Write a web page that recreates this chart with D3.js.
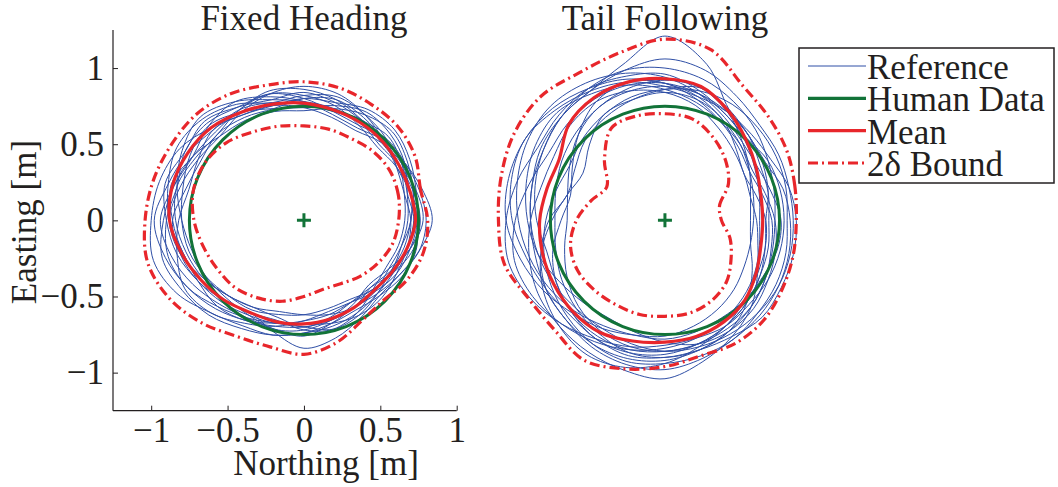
<!DOCTYPE html>
<html>
<head>
<meta charset="utf-8">
<script src="https://cdn.jsdelivr.net/npm/d3@7"></script>
<style>
  body { margin: 0; background: #fff; }
  svg text { font-family: "Liberation Serif", "Times New Roman", serif; fill: #231f20; }
</style>
</head>
<body>
<div id="grafico"></div>
<script>
const ringAngles = [0, 15, 30, 45, 60, 75, 90, 105, 120, 135, 150, 165, 180, 195, 210, 225, 240, 255, 270, 285, 300, 315, 330, 345];

// Human data: circle of radius 0.75 m about the origin
const humanRadius = 0.75;

// Fixed Heading - mean and 2-sigma bounds (radius in m at ringAngles)
const fixedMean  = [0.73, 0.72, 0.72, 0.73, 0.74, 0.75, 0.77, 0.79, 0.82, 0.86, 0.88, 0.89, 0.88, 0.83, 0.78, 0.74, 0.70, 0.69, 0.68, 0.67, 0.66, 0.65, 0.67, 0.70];
const fixedInner = [0.62, 0.64, 0.65, 0.64, 0.62, 0.62, 0.62, 0.64, 0.67, 0.72, 0.75, 0.75, 0.72, 0.68, 0.65, 0.63, 0.59, 0.55, 0.50, 0.47, 0.48, 0.52, 0.56, 0.60];
const fixedOuter = [0.81, 0.79, 0.84, 0.87, 0.88, 0.90, 0.91, 0.92, 0.96, 0.99, 1.00, 1.02, 1.04, 1.06, 1.02, 0.95, 0.88, 0.86, 0.88, 0.83, 0.76, 0.74, 0.78, 0.81];

// Tail Following - mean and 2-sigma bounds
const tailMean  = [0.64, 0.65, 0.69, 0.75, 0.83, 0.91, 0.93, 0.94, 0.93, 0.89, 0.80, 0.80, 0.82, 0.83, 0.84, 0.85, 0.85, 0.82, 0.80, 0.79, 0.77, 0.74, 0.69, 0.65];
const tailInner = [0.37, 0.37, 0.48, 0.56, 0.63, 0.69, 0.70, 0.71, 0.70, 0.56, 0.44, 0.50, 0.58, 0.64, 0.66, 0.65, 0.64, 0.64, 0.63, 0.63, 0.61, 0.57, 0.50, 0.44];
const tailOuter = [0.86, 0.88, 0.92, 0.96, 1.02, 1.16, 1.19, 1.14, 1.12, 1.15, 1.14, 1.11, 1.09, 1.09, 1.03, 1.02, 1.06, 1.01, 0.96, 0.92, 0.93, 0.92, 0.89, 0.87];

// reference runs, Fixed Heading (radius at ringAngles)
const fixedTracks = [
    [0.72, 0.70, 0.74, 0.78, 0.76, 0.80, 0.84, 0.82, 0.86, 0.92, 0.90, 0.94, 0.90, 0.86, 0.80, 0.76, 0.72, 0.70, 0.66, 0.64, 0.62, 0.64, 0.68, 0.70],
    [0.76, 0.74, 0.72, 0.72, 0.76, 0.74, 0.76, 0.80, 0.84, 0.84, 0.88, 0.92, 0.98, 0.94, 0.88, 0.82, 0.76, 0.72, 0.70, 0.68, 0.66, 0.62, 0.66, 0.72],
    [0.68, 0.70, 0.76, 0.80, 0.82, 0.78, 0.74, 0.76, 0.82, 0.88, 0.86, 0.82, 0.80, 0.78, 0.74, 0.70, 0.68, 0.64, 0.62, 0.60, 0.60, 0.64, 0.66, 0.66],
    [0.80, 0.78, 0.76, 0.74, 0.70, 0.72, 0.78, 0.84, 0.90, 0.88, 0.84, 0.88, 0.94, 0.90, 0.84, 0.78, 0.74, 0.74, 0.76, 0.70, 0.66, 0.68, 0.72, 0.78],
    [0.70, 0.72, 0.70, 0.68, 0.72, 0.78, 0.82, 0.86, 0.84, 0.80, 0.82, 0.86, 0.84, 0.80, 0.76, 0.70, 0.66, 0.62, 0.62, 0.64, 0.66, 0.66, 0.64, 0.66],
    [0.74, 0.76, 0.80, 0.84, 0.84, 0.80, 0.80, 0.78, 0.80, 0.86, 0.94, 0.98, 1.00, 1.02, 0.96, 0.86, 0.80, 0.78, 0.74, 0.70, 0.68, 0.70, 0.74, 0.76],
    [0.84, 0.80, 0.76, 0.74, 0.76, 0.82, 0.86, 0.88, 0.84, 0.82, 0.84, 0.90, 0.86, 0.82, 0.78, 0.74, 0.70, 0.76, 0.84, 0.80, 0.74, 0.70, 0.72, 0.78],
    [0.70, 0.68, 0.70, 0.76, 0.80, 0.84, 0.82, 0.80, 0.88, 0.94, 0.96, 0.92, 0.88, 0.82, 0.80, 0.80, 0.76, 0.70, 0.68, 0.70, 0.72, 0.72, 0.70, 0.70],
    [0.74, 0.72, 0.74, 0.72, 0.68, 0.70, 0.74, 0.78, 0.80, 0.84, 0.80, 0.78, 0.82, 0.86, 0.90, 0.86, 0.78, 0.72, 0.66, 0.62, 0.62, 0.66, 0.70, 0.72],
    [0.66, 0.68, 0.72, 0.74, 0.78, 0.82, 0.80, 0.76, 0.78, 0.80, 0.78, 0.80, 0.86, 0.84, 0.80, 0.74, 0.70, 0.68, 0.72, 0.74, 0.70, 0.64, 0.62, 0.64],
    [0.78, 0.76, 0.72, 0.70, 0.74, 0.76, 0.78, 0.82, 0.90, 0.96, 0.92, 0.86, 0.80, 0.76, 0.74, 0.72, 0.72, 0.74, 0.72, 0.68, 0.64, 0.60, 0.64, 0.72],
    [0.72, 0.74, 0.78, 0.82, 0.80, 0.76, 0.72, 0.74, 0.76, 0.78, 0.84, 0.88, 0.92, 0.96, 0.92, 0.88, 0.82, 0.78, 0.74, 0.72, 0.70, 0.68, 0.68, 0.70],
    [0.76, 0.72, 0.70, 0.74, 0.80, 0.86, 0.88, 0.86, 0.82, 0.78, 0.80, 0.84, 0.88, 0.84, 0.76, 0.70, 0.66, 0.66, 0.70, 0.66, 0.62, 0.62, 0.68, 0.74],
    [0.70, 0.74, 0.76, 0.76, 0.72, 0.74, 0.80, 0.86, 0.86, 0.90, 0.90, 0.86, 0.90, 0.92, 0.88, 0.80, 0.74, 0.70, 0.70, 0.74, 0.72, 0.68, 0.66, 0.68]
];

// reference runs, Tail Following
const tailTracks = [
    [0.72, 0.74, 0.78, 0.84, 0.90, 0.96, 1.00, 1.02, 1.00, 0.96, 0.92, 0.90, 0.88, 0.88, 0.90, 0.92, 0.94, 0.94, 0.92, 0.88, 0.84, 0.80, 0.76, 0.73],
    [0.62, 0.64, 0.68, 0.74, 0.80, 0.86, 0.90, 0.92, 0.92, 0.90, 0.88, 0.92, 0.98, 1.02, 1.00, 0.96, 0.92, 0.88, 0.84, 0.80, 0.76, 0.72, 0.68, 0.64],
    [0.80, 0.82, 0.84, 0.86, 0.88, 0.88, 0.86, 0.84, 0.80, 0.76, 0.72, 0.74, 0.78, 0.82, 0.86, 0.90, 0.94, 0.96, 0.94, 0.92, 0.90, 0.86, 0.84, 0.82],
    [0.58, 0.60, 0.64, 0.70, 0.76, 0.84, 0.90, 0.96, 1.00, 1.04, 1.06, 1.06, 1.04, 0.98, 0.92, 0.86, 0.82, 0.78, 0.76, 0.72, 0.68, 0.64, 0.60, 0.58],
    [0.70, 0.66, 0.64, 0.68, 0.74, 0.82, 0.90, 0.94, 0.90, 0.80, 0.70, 0.64, 0.68, 0.76, 0.82, 0.86, 0.88, 0.88, 0.86, 0.84, 0.82, 0.80, 0.76, 0.72],
    [0.84, 0.84, 0.86, 0.88, 0.94, 1.02, 1.06, 1.02, 0.98, 0.96, 0.94, 0.90, 0.88, 0.86, 0.84, 0.82, 0.82, 0.84, 0.86, 0.86, 0.86, 0.86, 0.86, 0.85],
    [0.60, 0.58, 0.60, 0.64, 0.70, 0.78, 0.84, 0.88, 0.90, 0.88, 0.84, 0.84, 0.88, 0.92, 0.96, 0.98, 1.00, 1.02, 1.04, 0.96, 0.88, 0.80, 0.70, 0.63],
    [0.76, 0.72, 0.70, 0.72, 0.78, 0.86, 0.94, 1.00, 1.04, 1.06, 1.04, 1.00, 0.96, 0.92, 0.88, 0.84, 0.80, 0.78, 0.78, 0.76, 0.74, 0.74, 0.74, 0.76],
    [0.66, 0.70, 0.74, 0.78, 0.82, 0.86, 0.88, 0.88, 0.86, 0.80, 0.72, 0.66, 0.64, 0.68, 0.74, 0.80, 0.84, 0.86, 0.86, 0.84, 0.80, 0.76, 0.72, 0.68],
    [0.78, 0.78, 0.78, 0.76, 0.80, 0.88, 0.96, 0.98, 1.00, 0.98, 0.96, 1.00, 1.04, 1.06, 1.02, 0.96, 0.90, 0.86, 0.82, 0.80, 0.80, 0.78, 0.78, 0.78],
    [0.56, 0.58, 0.64, 0.72, 0.82, 0.90, 0.92, 0.90, 0.86, 0.82, 0.78, 0.74, 0.72, 0.74, 0.78, 0.82, 0.86, 0.90, 0.90, 0.88, 0.84, 0.76, 0.66, 0.58],
    [0.82, 0.80, 0.76, 0.78, 0.84, 0.90, 0.86, 0.82, 0.78, 0.74, 0.68, 0.66, 0.76, 0.84, 0.90, 0.92, 0.96, 0.98, 0.98, 0.94, 0.90, 0.88, 0.86, 0.84],
    [0.68, 0.70, 0.72, 0.78, 0.84, 1.06, 1.21, 1.06, 0.98, 0.96, 0.92, 0.88, 0.84, 0.80, 0.82, 0.86, 0.90, 0.90, 0.88, 0.84, 0.80, 0.76, 0.72, 0.70],
    [0.72, 0.68, 0.66, 0.70, 0.74, 0.80, 0.86, 0.92, 0.96, 1.00, 0.98, 0.94, 0.90, 0.86, 0.80, 0.76, 0.74, 0.76, 0.80, 0.84, 0.84, 0.82, 0.78, 0.75],
    [0.66, 0.62, 0.60, 0.66, 0.76, 0.82, 0.84, 0.82, 0.80, 0.70, 0.62, 0.66, 0.74, 0.84, 0.92, 0.98, 1.02, 1.00, 0.94, 0.86, 0.80, 0.74, 0.70, 0.68],
    [0.86, 0.84, 0.80, 0.80, 0.82, 0.84, 0.88, 0.94, 0.98, 1.02, 1.06, 1.04, 1.00, 0.94, 0.90, 0.88, 0.90, 0.92, 0.90, 0.88, 0.88, 0.90, 0.88, 0.87]
];

// axes
const xTicks = [-1, -0.5, 0, 0.5, 1];
const yTicks = [-1, -0.5, 0, 0.5, 1];
const xDomain = [-1.25, 1];
const yDomain = [-1.25, 1.25];

const legendItems = ["Reference", "Human Data", "Mean", "2\u03b4 Bound"];

/**************************************************
 * Dimensiones
 ***************************************************/
const width = 1058;
const height = 487;
const plotTop = 30;
const plotBottom = 410.7;
const plotWidth = 343.7;
const panelLeft = [113, 474];

const colBlue = "#2f4fa6";
const colGreen = "#127338";
const colRed = "#e8262b";
const dashDot = "10,4,2,4";

const svg = d3.select("#grafico")
    .append("svg")
    .attr("width", width)
    .attr("height", height);

const fmt = d => (d < 0 ? "\u2212" : "") + Math.abs(d);

const panels = [
    { title: "Fixed Heading", left: panelLeft[0], tracks: fixedTracks, mean: fixedMean, inner: fixedInner, outer: fixedOuter, axes: true },
    { title: "Tail Following", left: panelLeft[1], tracks: tailTracks, mean: tailMean, inner: tailInner, outer: tailOuter, axes: false }
];

panels.forEach(p => {
    const x = d3.scaleLinear().domain(xDomain).range([p.left, p.left + plotWidth]);
    const y = d3.scaleLinear().domain(yDomain).range([plotBottom, plotTop]);

    // polar radii -> pixel points
    const toPoints = radii => radii.map((r, i) => {
        const a = ringAngles[i] * Math.PI / 180;
        return [x(r * Math.cos(a)), y(r * Math.sin(a))];
    });

    const line = d3.line().curve(d3.curveCatmullRomClosed.alpha(0.5));

    const g = svg.append("g");

    // reference runs
    g.selectAll(".track")
        .data(p.tracks)
        .enter()
        .append("path")
        .attr("class", "track")
        .attr("d", d => line(toPoints(d)))
        .attr("fill", "none")
        .attr("stroke", colBlue)
        .attr("stroke-width", 1);

    // human data
    g.append("ellipse")
        .attr("cx", x(0))
        .attr("cy", y(0))
        .attr("rx", x(humanRadius) - x(0))
        .attr("ry", y(0) - y(humanRadius))
        .attr("fill", "none")
        .attr("stroke", colGreen)
        .attr("stroke-width", 3);

    // centre mark
    g.append("path")
        .attr("d", `M${x(0) - 7},${y(0)}H${x(0) + 7}M${x(0)},${y(0) - 7}V${y(0) + 7}`)
        .attr("stroke", colGreen)
        .attr("stroke-width", 3);

    // mean
    g.append("path")
        .attr("d", line(toPoints(p.mean)))
        .attr("fill", "none")
        .attr("stroke", colRed)
        .attr("stroke-width", 3.2);

    // bounds
    [p.inner, p.outer].forEach(b => {
        g.append("path")
            .attr("d", line(toPoints(b)))
            .attr("fill", "none")
            .attr("stroke", colRed)
            .attr("stroke-width", 3.2)
            .attr("stroke-dasharray", dashDot);
    });

    // titulo
    svg.append("text")
        .attr("x", x(0))
        .attr("y", 30)
        .attr("text-anchor", "middle")
        .style("font-size", "35px")
        .text(p.title);

    if (!p.axes) return;

    const xAxis = d3.axisBottom(x).tickValues(xTicks).tickSize(-5).tickPadding(6).tickFormat(fmt);
    const yAxis = d3.axisLeft(y).tickValues(yTicks).tickSize(-5).tickPadding(9).tickFormat(fmt);

    const gx = svg.append("g")
        .attr("transform", `translate(0,${plotBottom})`)
        .call(xAxis);
    const gy = svg.append("g")
        .attr("transform", `translate(${p.left},0)`)
        .call(yAxis);

    [gx, gy].forEach(a => {
        a.select(".domain").remove();
        a.selectAll(".tick line").attr("stroke", "#231f20");
        a.selectAll(".tick text")
            .style("font-size", "35px")
            .style("font-family", "'Liberation Serif', serif")
            .attr("fill", "#231f20");
    });

    // axis lines (no box)
    svg.append("line")
        .attr("x1", p.left).attr("x2", p.left + plotWidth)
        .attr("y1", plotBottom).attr("y2", plotBottom)
        .attr("stroke", "#231f20").attr("stroke-width", 1.2);
    svg.append("line")
        .attr("x1", p.left).attr("x2", p.left)
        .attr("y1", plotTop).attr("y2", plotBottom)
        .attr("stroke", "#231f20").attr("stroke-width", 1.2);

    // axis labels
    svg.append("text")
        .attr("x", 326)
        .attr("y", 475)
        .attr("text-anchor", "middle")
        .style("font-size", "35px")
        .text("Northing [m]");

    svg.append("text")
        .attr("transform", `translate(36,222) rotate(-90)`)
        .attr("text-anchor", "middle")
        .style("font-size", "35px")
        .text("Easting [m]");
});

/**************************************************
 * Legend
 ***************************************************/
const legend = svg.append("g").attr("id", "legend");

legend.append("rect")
    .attr("x", 799)
    .attr("y", 48)
    .attr("width", 255)
    .attr("height", 135)
    .attr("fill", "#fff")
    .attr("stroke", "#231f20")
    .attr("stroke-width", 1.5);

const legendY = d3.scalePoint().domain(legendItems).range([66, 163]);
const legendStyle = {
    "Reference": { c: colBlue, w: 1, dash: null },
    "Human Data": { c: colGreen, w: 3.2, dash: null },
    "Mean": { c: colRed, w: 3.2, dash: null },
    "2\u03b4 Bound": { c: colRed, w: 3.2, dash: dashDot }
};

legendItems.forEach(name => {
    const s = legendStyle[name];
    legend.append("line")
        .attr("x1", 808).attr("x2", 866)
        .attr("y1", legendY(name)).attr("y2", legendY(name))
        .attr("stroke", s.c)
        .attr("stroke-width", s.w)
        .attr("stroke-dasharray", s.dash);
    legend.append("text")
        .attr("x", 867)
        .attr("y", legendY(name) + 13)
        .style("font-size", "35px")
        .text(name);
});
</script>
</body>
</html>
